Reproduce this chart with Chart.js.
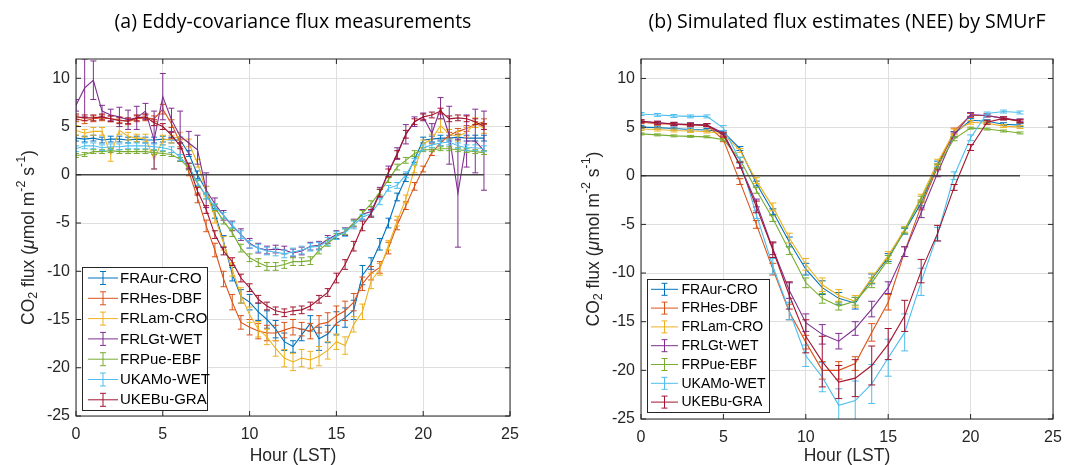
<!DOCTYPE html>
<html>
<head>
<meta charset="utf-8">
<title>CO2 flux diurnal cycles</title>
<script src="https://cdn.jsdelivr.net/npm/chart.js@4.4.1/dist/chart.umd.min.js"></script>
<style>
  body { margin: 0; background: #fff; }
  #wrap { position: relative; width: 1072px; height: 465px; }
  canvas { position: absolute; top: 0; }
</style>
</head>
<body>
<div id="wrap">
  <canvas id="panelA" width="540" height="465" style="left:0"></canvas>
  <canvas id="panelB" width="532" height="465" style="left:540px"></canvas>
</div>
<script>
const siteNames = ["FRAur-CRO", "FRHes-DBF", "FRLam-CRO", "FRLGt-WET", "FRPue-EBF", "UKAMo-WET", "UKEBu-GRA"];
const siteColors = ["#0072BD", "#D95319", "#EDB120", "#7E2F8E", "#77AC30", "#4DBEEE", "#A2142F"];

const xTicks = [0, 5, 10, 15, 20, 25];
const yTicks = [10, 5, 0, -5, -10, -15, -20, -25];
const zeroLevel = 0;

// (a) half-hourly eddy-covariance measurements
const hoursA = [0, 0.5, 1, 1.5, 2, 2.5, 3, 3.5, 4, 4.5, 5, 5.5,
  6, 6.5, 7, 7.5, 8, 8.5, 9, 9.5, 10, 10.5, 11, 11.5,
  12, 12.5, 13, 13.5, 14, 14.5, 15, 15.5, 16, 16.5, 17, 17.5,
  18, 18.5, 19, 19.5, 20, 20.5, 21, 21.5, 22, 22.5, 23, 23.5];

const frAurA = [3.8, 3.7, 3.8, 3.6, 3.7, 3.7, 3.6, 3.7, 3.6, 3.6, 3.7, 3.6,
  3.6, 2.2, 0.0, -1.6, -4.0, -6.9, -10.3, -12.6, -13.2, -14.2, -15.0, -16.0,
  -17.3, -17.8, -16.6, -15.4, -17.0, -16.5, -15.4, -14.8, -14.0, -10.4, -9.2, -7.2,
  -5.0, -2.3, -0.3, 1.6, 3.6, 3.7, 3.8, 3.8, 3.9, 3.8, 3.8, 3.8];
const frHesA = [5.8, 5.6, 5.8, 5.9, 5.8, 5.7, 5.5, 5.8, 5.9, 5.8, 6.8, 5.3,
  3.3, 0.3, -2.4, -5.3, -7.8, -10.8, -13.2, -15.3, -15.8, -16.2, -16.4, -16.4,
  -16.1, -15.8, -16.0, -16.2, -15.5, -15.3, -14.6, -14.1, -13.2, -11.3, -10.2, -9.6,
  -7.6, -5.2, -3.2, -1.2, 0.6, 2.3, 3.3, 4.1, 4.5, 4.8, 5.2, 5.5];
const frLamA = [4.6, 4.3, 4.5, 4.5, 2.1, 4.6, 4.0, 3.8, 3.8, 1.6, 3.6, 3.7,
  4.0, 3.3, 1.2, -1.7, -4.4, -7.1, -9.8, -12.5, -14.5, -16.0, -16.8, -18.0,
  -19.0, -19.4, -19.0, -19.2, -18.8, -18.2, -17.3, -17.7, -15.5, -14.2, -11.0, -9.8,
  -7.3, -4.8, -2.5, 0.6, 3.2, 3.7, 5.1, 4.2, 4.0, 4.4, 5.4, 4.8];
const frLGtA = [7.2, 9.0, 9.8, 6.6, 6.2, 6.0, 5.7, 5.9, 6.6, 3.6, 8.1, 5.7,
  4.0, 3.3, 2.6, -1.6, -3.0, -4.2, -5.3, -6.2, -7.1, -7.6, -7.8, -7.7,
  -7.8, -8.1, -7.9, -7.4, -7.3, -6.7, -6.2, -5.9, -5.0, -4.1, -3.8, -1.8,
  0.3, 2.2, 4.2, 5.5, 6.0, 4.3, 6.9, 4.1, -1.9, 3.5, 3.5, 2.5];
const frPueA = [2.0, 2.1, 2.4, 2.4, 2.5, 2.4, 2.4, 2.4, 2.4, 2.3, 2.2, 2.1,
  1.6, 0.7, -0.9, -2.2, -3.4, -4.8, -6.0, -7.6, -8.6, -9.1, -9.5, -9.5,
  -9.3, -9.0, -9.0, -8.9, -7.8, -7.1, -6.4, -5.9, -5.0, -4.0, -3.0, -1.8,
  -0.5, 0.8, 1.5, 2.2, 2.6, 2.6, 2.7, 2.7, 2.6, 2.5, 2.4, 2.3];
const ukAMoA = [2.7, 3.0, 3.0, 2.8, 2.9, 2.9, 3.0, 3.0, 3.0, 2.9, 2.8, 2.6,
  1.8, 0.9, -0.8, -2.2, -3.3, -4.2, -5.2, -6.2, -7.2, -7.6, -7.9, -8.0,
  -8.2, -8.0, -7.8, -7.5, -7.4, -6.9, -6.3, -6.0, -5.2, -4.4, -4.0, -2.8,
  -1.4, -1.1, 0.0, 1.4, 2.8, 3.1, 3.3, 3.4, 3.0, 2.8, 2.8, 2.7];
const ukEBuA = [6.0, 5.9, 5.9, 6.0, 5.8, 5.6, 5.6, 5.9, 6.0, 5.4, 5.0, 4.1,
  3.0, 0.9, -1.7, -3.6, -6.2, -7.9, -9.0, -10.7, -11.7, -12.9, -13.6, -14.1,
  -14.3, -14.1, -14.0, -13.6, -12.9, -12.2, -10.7, -9.3, -7.4, -5.3, -4.0, -1.9,
  0.2, 2.1, 4.2, 5.5, 6.0, 6.2, 6.6, 5.8, 5.9, 5.8, 5.5, 5.0];

const errAurA = [0.3, 0.3, 0.3, 0.3, 0.3, 0.3, 0.3, 0.3, 0.3, 0.3, 0.3, 0.3,
  0.3, 0.3, 0.4, 0.4, 0.5, 0.6, 0.7, 0.7, 0.8, 0.9, 0.9, 0.9,
  0.9, 0.6, 0.6, 0.8, 1.2, 0.9, 1.2, 1.0, 1.0, 1.0, 0.6, 0.6,
  0.5, 0.4, 0.4, 0.3, 0.3, 0.3, 0.3, 0.3, 0.3, 0.3, 0.3, 0.3];
const errHesA = [0.3, 0.3, 0.3, 0.3, 0.3, 0.3, 0.3, 0.3, 0.3, 0.3, 0.5, 0.4,
  0.4, 0.4, 0.5, 0.6, 0.7, 0.8, 0.8, 0.7, 0.8, 0.8, 0.8, 0.8,
  0.8, 0.8, 0.7, 0.8, 0.9, 1.0, 1.0, 1.0, 0.9, 0.7, 0.7, 0.6,
  0.6, 0.5, 0.4, 0.4, 0.3, 0.3, 0.3, 0.3, 0.3, 0.3, 0.3, 0.3];
const errLamA = [0.5, 0.4, 0.4, 0.4, 0.7, 0.4, 0.4, 0.4, 0.4, 1.0, 0.5, 0.4,
  0.4, 0.4, 0.4, 0.5, 0.6, 0.7, 0.7, 0.8, 0.8, 0.8, 0.8, 0.8,
  0.9, 0.9, 0.9, 0.9, 1.0, 0.9, 0.8, 0.9, 0.8, 0.8, 0.8, 0.6,
  0.5, 0.5, 0.4, 0.4, 0.4, 0.5, 0.7, 0.5, 0.5, 0.5, 0.5, 0.5];
const errLGtA = [0.6, 3.0, 2.0, 0.6, 0.6, 1.0, 1.0, 1.2, 0.8, 3.0, 2.4, 1.2,
  2.6, 1.2, 1.5, 1.8, 0.6, 0.5, 0.5, 0.6, 0.5, 0.5, 0.4, 0.4,
  0.4, 0.4, 0.4, 0.4, 0.4, 0.4, 0.4, 0.4, 0.4, 0.5, 0.5, 0.5,
  0.6, 0.6, 1.0, 0.5, 0.4, 1.0, 1.1, 3.0, 5.6, 2.7, 3.3, 4.1];
const errPueA = [0.2, 0.2, 0.2, 0.2, 0.2, 0.2, 0.2, 0.2, 0.2, 0.2, 0.2, 0.2,
  0.2, 0.2, 0.3, 0.3, 0.3, 0.3, 0.4, 0.4, 0.4, 0.4, 0.4, 0.4,
  0.4, 0.4, 0.4, 0.4, 0.4, 0.3, 0.3, 0.3, 0.3, 0.3, 0.3, 0.3,
  0.3, 0.3, 0.3, 0.3, 0.2, 0.2, 0.2, 0.2, 0.2, 0.2, 0.2, 0.2];
const errAMoA = [0.3, 0.3, 0.3, 0.3, 0.3, 0.3, 0.3, 0.3, 0.3, 0.3, 0.3, 0.3,
  0.3, 0.3, 0.3, 0.3, 0.3, 0.3, 0.3, 0.4, 0.4, 0.4, 0.4, 0.4,
  0.4, 0.4, 0.4, 0.4, 0.4, 0.4, 0.4, 0.4, 0.4, 0.3, 0.3, 0.3,
  0.3, 0.3, 0.3, 0.3, 0.3, 0.3, 0.3, 0.3, 0.3, 0.3, 0.3, 0.3];
const errEBuA = [0.3, 0.3, 0.3, 0.3, 0.3, 0.3, 0.3, 0.3, 0.3, 0.3, 0.3, 0.3,
  0.3, 0.3, 0.4, 0.4, 0.4, 0.4, 0.4, 0.4, 0.4, 0.4, 0.4, 0.4,
  0.4, 0.4, 0.4, 0.4, 0.4, 0.4, 0.5, 0.5, 0.5, 0.5, 0.4, 0.4,
  0.4, 0.4, 0.4, 0.3, 0.3, 0.3, 0.3, 0.3, 0.3, 0.3, 0.3, 0.3];

// (b) hourly SMUrF estimates
const hoursB = [0, 1, 2, 3, 4, 5, 6, 7, 8, 9, 10, 11, 12, 13, 14, 15, 16, 17, 18, 19, 20, 21, 22, 23];

const frAurB = [5.0, 4.95, 4.85, 4.75, 4.7, 4.5, 2.8, -0.8, -3.7, -6.8, -9.6, -11.5, -12.6, -13.1, -10.6, -8.4, -5.7, -2.8, 1.2, 4.3, 5.7, 5.6, 5.3, 5.2];
const frHesB = [5.5, 5.35, 5.3, 5.2, 5.2, 3.7, -0.6, -5.0, -9.6, -14.0, -17.1, -20.0, -20.0, -19.3, -16.1, -13.0, -7.8, -3.1, 0.9, 4.6, 6.2, 6.2, 5.9, 5.6];
const frLamB = [4.8, 4.75, 4.65, 4.6, 4.55, 4.3, 2.6, -0.5, -3.2, -6.4, -9.1, -11.2, -12.3, -12.9, -10.5, -8.2, -5.5, -2.2, 1.4, 4.5, 5.5, 5.4, 5.1, 5.0];
const frLGtB = [5.6, 5.45, 5.3, 5.3, 5.2, 4.4, 1.1, -2.8, -7.5, -11.8, -15.1, -16.3, -17.0, -15.7, -13.7, -11.5, -7.8, -3.8, 0.3, 4.2, 6.3, 6.2, 5.9, 5.7];
const frPueB = [4.3, 4.2, 4.1, 4.05, 4.0, 3.7, 1.7, -1.5, -4.4, -7.7, -11.0, -12.6, -13.4, -12.9, -11.0, -8.6, -5.6, -2.4, 1.0, 3.8, 4.9, 4.8, 4.6, 4.4];
const ukAMoB = [6.35, 6.25, 6.15, 6.1, 6.1, 4.9, 1.6, -4.0, -9.3, -13.9, -18.5, -20.7, -23.6, -23.1, -21.4, -18.7, -16.1, -10.9, -6.0, 0.0, 3.9, 6.4, 6.6, 6.5];
const ukEBuB = [5.6, 5.45, 5.35, 5.25, 5.2, 4.2, 1.1, -3.2, -7.6, -12.3, -16.5, -19.1, -21.2, -20.8, -19.5, -17.3, -14.4, -9.8, -5.9, -1.2, 2.9, 5.5, 5.9, 5.6];

const errAurB = [0.15, 0.15, 0.15, 0.15, 0.15, 0.15, 0.2, 0.25, 0.3, 0.5, 0.6, 0.7, 0.6, 0.6, 0.5, 0.4, 0.3, 0.3, 0.3, 0.25, 0.2, 0.15, 0.15, 0.15];
const errHesB = [0.15, 0.15, 0.15, 0.15, 0.15, 0.2, 0.3, 0.4, 0.6, 0.8, 0.7, 0.9, 0.9, 0.7, 0.9, 0.8, 0.5, 0.4, 0.3, 0.3, 0.2, 0.15, 0.15, 0.15];
const errLamB = [0.15, 0.15, 0.15, 0.15, 0.15, 0.15, 0.2, 0.3, 0.4, 0.5, 0.6, 0.7, 0.6, 0.6, 0.5, 0.4, 0.3, 0.3, 0.3, 0.3, 0.2, 0.15, 0.15, 0.15];
const errLGtB = [0.15, 0.15, 0.15, 0.15, 0.15, 0.2, 0.3, 0.4, 0.6, 0.8, 0.9, 1.0, 0.8, 0.7, 0.8, 0.6, 0.5, 0.5, 0.4, 0.3, 0.2, 0.15, 0.15, 0.15];
const errPueB = [0.1, 0.1, 0.1, 0.1, 0.1, 0.1, 0.2, 0.3, 0.3, 0.4, 0.5, 0.5, 0.4, 0.4, 0.5, 0.4, 0.3, 0.3, 0.2, 0.2, 0.1, 0.1, 0.1, 0.1];
const errAMoB = [0.15, 0.15, 0.15, 0.15, 0.15, 0.25, 0.3, 0.4, 0.8, 0.9, 1.1, 1.5, 1.7, 2.0, 2.0, 1.9, 1.9, 1.4, 0.7, 0.4, 0.3, 0.15, 0.15, 0.15];
const errEBuB = [0.15, 0.15, 0.15, 0.15, 0.15, 0.2, 0.3, 0.6, 0.8, 1.4, 1.7, 2.6, 1.7, 1.9, 2.0, 1.6, 1.6, 1.2, 0.8, 0.3, 0.3, 0.2, 0.15, 0.15];

const TICK_FONT = "'Liberation Sans', Arial, sans-serif";
const AXIS_COLOR = "#262626";

// vertical error bars with caps, drawn right after each series line
const errorBarPlugin = {
  id: "errorBars",
  afterDatasetDraw(chart, args, opts) {
    const ds = chart.data.datasets[args.index];
    if (!ds.errors) return;
    const { ctx, chartArea: a, scales: { x, y } } = chart;
    const cap = opts.cap || 3;
    ctx.save();
    ctx.beginPath();
    ctx.rect(a.left, a.top, a.right - a.left, a.bottom - a.top);
    ctx.clip();
    ctx.strokeStyle = ds.borderColor;
    ctx.lineWidth = 1;
    ctx.beginPath();
    ds.data.forEach((p, i) => {
      const px = x.getPixelForValue(p.x);
      const top = y.getPixelForValue(p.y + ds.errors[i]);
      const bot = y.getPixelForValue(p.y - ds.errors[i]);
      ctx.moveTo(px, top); ctx.lineTo(px, bot);
      ctx.moveTo(px - cap, top); ctx.lineTo(px + cap, top);
      ctx.moveTo(px - cap, bot); ctx.lineTo(px + cap, bot);
    });
    ctx.stroke();
    ctx.restore();
  }
};

function drawYTitle(ctx, cx, cy) {
  // [text, kind] kind: 0 normal, 1 subscript, 2 superscript, 3 italic
  const parts = [["CO", 0], ["2", 1], [" flux (", 0], ["\u03bc", 3], ["mol m", 0], ["-2", 2], [" s", 0], ["-1", 2], [")", 0]];
  const fontFor = (k) => k === 1 || k === 2 ? `12.5px ${TICK_FONT}` : k === 3 ? `italic 17.5px ${TICK_FONT}` : `17.5px ${TICK_FONT}`;
  let total = 0;
  parts.forEach(([t, k]) => { ctx.font = fontFor(k); total += ctx.measureText(t).width; });
  ctx.save();
  ctx.translate(cx, cy);
  ctx.rotate(-Math.PI / 2);
  ctx.fillStyle = AXIS_COLOR;
  ctx.textAlign = "left";
  ctx.textBaseline = "middle";
  let pos = -total / 2;
  parts.forEach(([t, k]) => {
    ctx.font = fontFor(k);
    const dy = k === 1 ? 5 : k === 2 ? -7 : 0;
    ctx.fillText(t, pos, dy);
    pos += ctx.measureText(t).width;
  });
  ctx.restore();
}

function drawLegend(ctx, L) {
  ctx.save();
  ctx.fillStyle = "#fff";
  ctx.fillRect(L.x, L.y, L.w, L.h);
  ctx.strokeStyle = AXIS_COLOR;
  ctx.lineWidth = 1;
  ctx.strokeRect(L.x + 0.5, L.y + 0.5, L.w, L.h);
  ctx.font = `${L.font}px ${TICK_FONT}`;
  ctx.textAlign = "left";
  ctx.textBaseline = "middle";
  siteNames.forEach((name, k) => {
    const cy = L.y + L.first + k * L.step;
    const x0 = L.x + L.symLeft, x1 = x0 + L.symLen, xm = (x0 + x1) / 2;
    ctx.strokeStyle = siteColors[k];
    ctx.beginPath();
    ctx.moveTo(x0, cy); ctx.lineTo(x1, cy);
    ctx.moveTo(xm, cy - L.bar); ctx.lineTo(xm, cy + L.bar);
    ctx.moveTo(xm - 3, cy - L.bar); ctx.lineTo(xm + 3, cy - L.bar);
    ctx.moveTo(xm - 3, cy + L.bar); ctx.lineTo(xm + 3, cy + L.bar);
    ctx.stroke();
    ctx.fillStyle = "#000";
    ctx.fillText(name, x1 + L.gap, cy + 0.5);
  });
  ctx.restore();
}

// box, inward ticks, legend and all titles
const panelDecor = {
  id: "panelDecor",
  afterDraw(chart, args, opts) {
    const { ctx, chartArea: a, scales: { x, y } } = chart;
    ctx.save();
    ctx.strokeStyle = AXIS_COLOR;
    ctx.lineWidth = 1;
    ctx.strokeRect(a.left, a.top, a.right - a.left, a.bottom - a.top);
    ctx.beginPath();
    xTicks.forEach(v => {
      const px = x.getPixelForValue(v);
      ctx.moveTo(px, a.bottom); ctx.lineTo(px, a.bottom - 5);
      ctx.moveTo(px, a.top); ctx.lineTo(px, a.top + 5);
    });
    yTicks.forEach(v => {
      const py = y.getPixelForValue(v);
      ctx.moveTo(a.left, py); ctx.lineTo(a.left + 5, py);
      ctx.moveTo(a.right, py); ctx.lineTo(a.right - 5, py);
    });
    ctx.stroke();
    ctx.restore();

    drawLegend(ctx, opts.legendBox);

    ctx.save();
    ctx.fillStyle = "#000";
    ctx.textAlign = "center";
    ctx.textBaseline = "middle";
    ctx.font = "19.5px 'Open Sans', sans-serif";
    ctx.fillText(opts.title, (a.left + a.right) / 2, 22);
    ctx.fillStyle = AXIS_COLOR;
    ctx.font = `17.5px ${TICK_FONT}`;
    ctx.fillText("Hour (LST)", (a.left + a.right) / 2, 456);
    ctx.restore();

    drawYTitle(ctx, a.left - 47, (a.top + a.bottom) / 2);
  }
};

function buildDatasets(hours, values, errors) {
  const sets = values.map((vals, k) => ({
    label: siteNames[k],
    data: hours.map((h, i) => ({ x: h, y: vals[i] })),
    errors: errors[k],
    borderColor: siteColors[k],
    borderWidth: 1.1,
    pointRadius: 0,
    tension: 0,
    fill: false,
    order: siteNames.length - k
  }));
  sets.push({
    label: "zero",
    data: [{ x: hours[0], y: zeroLevel }, { x: hours[hours.length - 1], y: zeroLevel }],
    borderColor: "#454545",
    borderWidth: 1.5,
    pointRadius: 0,
    order: 0
  });
  return sets;
}

function makePanel(id, cfg) {
  const el = document.getElementById(id);
  return new Chart(el, {
    type: "line",
    data: { datasets: buildDatasets(cfg.hours, cfg.values, cfg.errors) },
    options: {
      responsive: false,
      animation: false,
      events: [],
      layout: { padding: { top: cfg.area.top, right: el.width - cfg.area.right, left: 0, bottom: 0 } },
      scales: {
        x: {
          type: "linear",
          min: 0,
          max: 25,
          afterBuildTicks: (axis) => { axis.ticks = xTicks.map(v => ({ value: v })); },
          afterFit: (axis) => { axis.height = el.height - cfg.area.bottom; },
          grid: { color: "#dfdfdf", drawTicks: false },
          border: { display: false },
          ticks: { color: AXIS_COLOR, padding: 9, maxRotation: 0, font: { family: TICK_FONT, size: 16 } }
        },
        y: {
          min: -25,
          max: 12,
          afterBuildTicks: (axis) => { axis.ticks = yTicks.map(v => ({ value: v })); },
          afterFit: (axis) => { axis.width = cfg.area.left; },
          grid: { color: "#dfdfdf", drawTicks: false },
          border: { display: false },
          ticks: { color: AXIS_COLOR, padding: 6, font: { family: TICK_FONT, size: 16 } }
        }
      },
      plugins: {
        legend: { display: false },
        title: { display: false },
        tooltip: { enabled: false },
        errorBars: { cap: cfg.cap },
        panelDecor: { title: cfg.title, legendBox: cfg.legendBox }
      }
    },
    plugins: [errorBarPlugin, panelDecor]
  });
}

makePanel("panelA", {
  title: "(a) Eddy-covariance flux measurements",
  hours: hoursA,
  values: [frAurA, frHesA, frLamA, frLGtA, frPueA, ukAMoA, ukEBuA],
  errors: [errAurA, errHesA, errLamA, errLGtA, errPueA, errAMoA, errEBuA],
  area: { left: 76, right: 510, top: 59, bottom: 416 },
  cap: 3,
  legendBox: { x: 82, y: 267, w: 125, h: 143, first: 11, step: 20.3, symLeft: 6, symLen: 30, gap: 2, font: 15, bar: 6.5 }
});

makePanel("panelB", {
  title: "(b) Simulated flux estimates (NEE) by SMUrF",
  hours: hoursB,
  values: [frAurB, frHesB, frLamB, frLGtB, frPueB, ukAMoB, ukEBuB],
  errors: [errAurB, errHesB, errLamB, errLGtB, errPueB, errAMoB, errEBuB],
  area: { left: 101, right: 513, top: 59, bottom: 419 },
  cap: 3.5,
  legendBox: { x: 107, y: 279, w: 122, h: 133, first: 10.3, step: 18.8, symLeft: 4, symLen: 27, gap: 3.5, font: 14, bar: 6 }
});
</script>
</body>
</html>
